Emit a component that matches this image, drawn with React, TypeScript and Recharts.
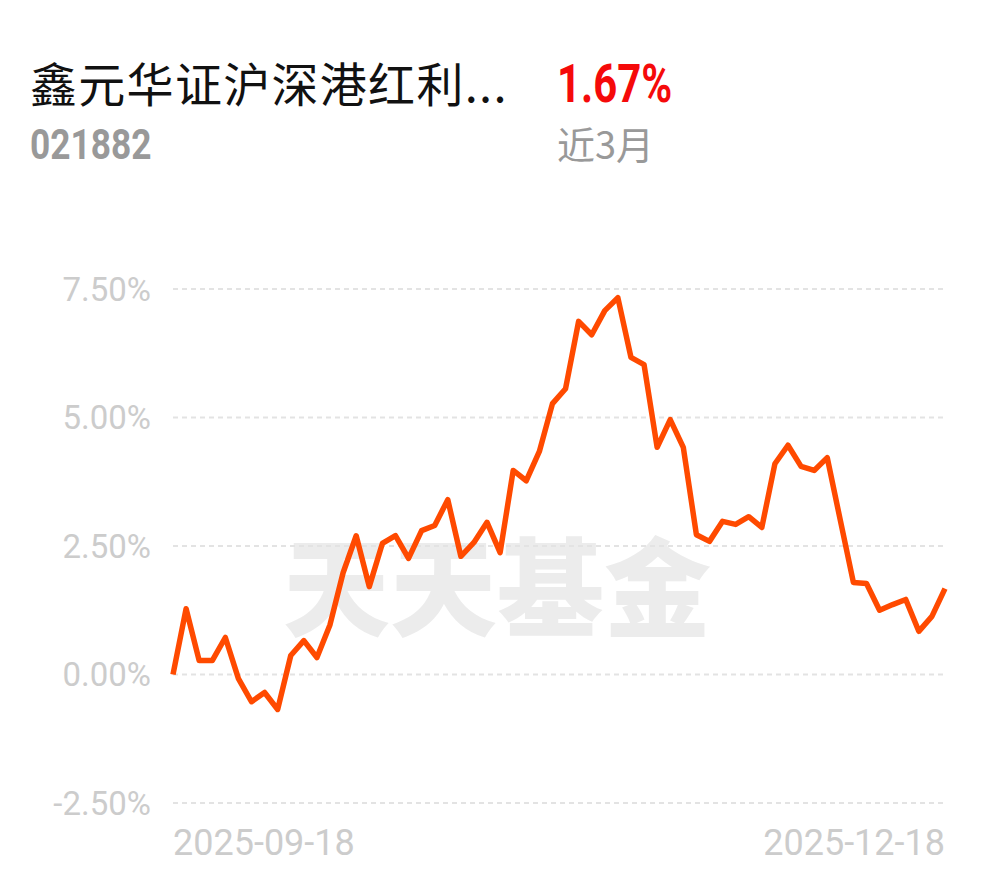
import React from "react";
import {LineChart, Line, XAxis, YAxis, CartesianGrid} from "recharts";

const dates = [
    "2025-09-18", "2025-09-19", "2025-09-22", "2025-09-23", "2025-09-24", "2025-09-25", "2025-09-26", "2025-09-29", "2025-09-30",
    "2025-10-09", "2025-10-10", "2025-10-13", "2025-10-14", "2025-10-15", "2025-10-16", "2025-10-17", "2025-10-20", "2025-10-21",
    "2025-10-22", "2025-10-23", "2025-10-24", "2025-10-27", "2025-10-28", "2025-10-29", "2025-10-30", "2025-10-31",
    "2025-11-03", "2025-11-04", "2025-11-05", "2025-11-06", "2025-11-07", "2025-11-10", "2025-11-11", "2025-11-12", "2025-11-13",
    "2025-11-14", "2025-11-17", "2025-11-18", "2025-11-19", "2025-11-20", "2025-11-21", "2025-11-24", "2025-11-25", "2025-11-26",
    "2025-11-27", "2025-11-28", "2025-12-01", "2025-12-02", "2025-12-03", "2025-12-04", "2025-12-05", "2025-12-08", "2025-12-09",
    "2025-12-10", "2025-12-11", "2025-12-12", "2025-12-15", "2025-12-16", "2025-12-17", "2025-12-18"
];

const returns = [
    0.00, 1.28, 0.27, 0.27, 0.72, -0.08, -0.53, -0.35, -0.68, 0.37,
    0.66, 0.33, 0.97, 1.98, 2.70, 1.71, 2.55, 2.70, 2.26, 2.80,
    2.90, 3.40, 2.30, 2.57, 2.96, 2.37, 3.97, 3.77, 4.34, 5.27,
    5.56, 6.87, 6.61, 7.08, 7.33, 6.17, 6.03, 4.42, 4.96, 4.42,
    2.72, 2.59, 2.98, 2.92, 3.07, 2.86, 4.10, 4.46, 4.05, 3.97,
    4.22, 3.00, 1.79, 1.77, 1.25, 1.36, 1.46, 0.84, 1.13, 1.67
];

const yTicks = [-2.5, 0, 2.5, 5, 7.5];
const xTicks = ["2025-09-18", "2025-12-18"];

const data = dates.map((d, i) => ({date: d, value: returns[i]}));

const tickStyle = {fill: "#cccccc", fontSize: 33, fontFamily: "Roboto, sans-serif"};

const XTick = (props: any) => {
    const {x, y, payload, index} = props;
    const anchor = index === 0 ? "start" : "end";
    return (
        <text x={x} y={y} dy={48} textAnchor={anchor} {...tickStyle} fontSize={36}>{payload.value}</text>
    );
};

const App = () => {
    return (
        <div style={{position: "absolute", left: 0, top: 0, width: 990, height: 878, background: "#fff", overflow: "hidden"}}>
            <div style={{
                position: "absolute", left: 30, top: 58, fontSize: 47, lineHeight: 1,
                fontFamily: "'Noto Sans CJK SC', sans-serif", color: "#111", letterSpacing: 1.3
            }}>鑫元华证沪深港红利...</div>
            <div style={{
                position: "absolute", left: 557, top: 58, fontSize: 53, lineHeight: 1, fontWeight: 700,
                fontFamily: "Roboto, sans-serif", color: "#f50a0a",
                transform: "scaleX(0.79)", transformOrigin: "left top"
            }}>1.67%</div>
            <div style={{
                position: "absolute", left: 30, top: 124, fontSize: 42, lineHeight: 1, fontWeight: 700,
                fontFamily: "Roboto, sans-serif", color: "#999",
                transform: "scaleX(0.84)", transformOrigin: "left top"
            }}>021882</div>
            <div style={{
                position: "absolute", left: 557, top: 124, fontSize: 38, lineHeight: 1,
                fontFamily: "'Noto Sans CJK SC', sans-serif", color: "#999"
            }}>近3月</div>
            <div style={{
                position: "absolute", left: 283, top: 528, fontSize: 107, lineHeight: 1, fontWeight: 900,
                fontFamily: "'Noto Sans CJK SC', sans-serif", color: "#ececec"
            }}>天天基金</div>
            <div style={{position: "absolute", left: 0, top: 0}}>
                <LineChart width={990} height={878} data={data}
                           margin={{top: 289, right: 45, bottom: 0, left: 73}}>
                    <CartesianGrid stroke="#e3e3e3" strokeWidth={2} strokeDasharray="5 4" vertical={false}/>
                    <XAxis dataKey="date" ticks={xTicks} interval={0} tickLine={false} axisLine={false}
                           tick={<XTick/>} height={75} tickSize={0} tickMargin={4}/>
                    <YAxis domain={[-2.5, 7.5]} ticks={yTicks} width={100} tickLine={false} axisLine={false}
                           tickSize={0} tickMargin={22} tick={tickStyle}
                           tickFormatter={(v: number) => `${v.toFixed(2)}%`}/>
                    <Line type="linear" dataKey="value" stroke="#ff4a00" strokeWidth={5.5} dot={false}
                          strokeLinejoin="round" isAnimationActive={false}/>
                </LineChart>
            </div>
        </div>
    );
};

export default App;
